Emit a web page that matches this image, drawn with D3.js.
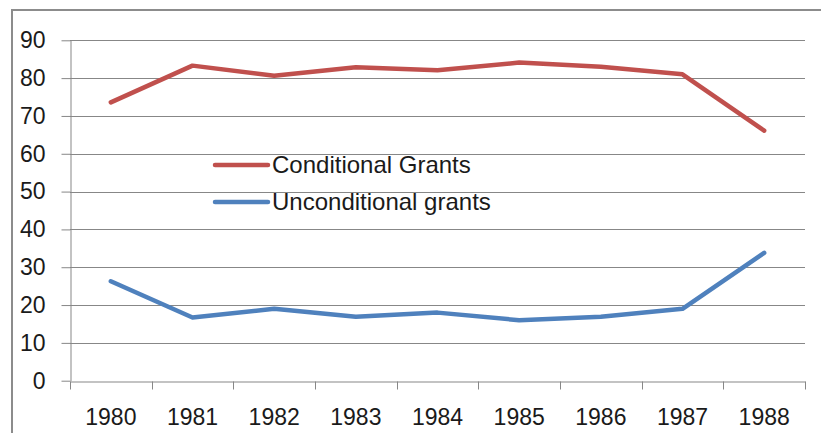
<!DOCTYPE html>
<html>
<head>
<meta charset="utf-8">
<script src="https://cdn.jsdelivr.net/npm/d3@7"></script>
<style>
  body { margin: 0; background: #fff; }
  svg { display: block; font-family: "Liberation Sans", Arial, sans-serif; }
</style>
</head>
<body>
<div id="vis-container"></div>
<script>
const width = 821,
    height = 433;

// data
const years = ["1980", "1981", "1982", "1983", "1984", "1985", "1986", "1987", "1988"];
const conditional = [73.6, 83.3, 80.6, 82.9, 82.1, 84.1, 83.0, 81.0, 66.1];
const unconditional = [26.3, 16.7, 19.0, 16.9, 18.0, 16.0, 16.9, 19.0, 33.8];
const yTicks = [0, 10, 20, 30, 40, 50, 60, 70, 80, 90];
const seriesNames = ["Conditional Grants", "Unconditional grants"];
const colors = ["#C0504D", "#4F81BD"];

const plotLeft = 70, plotRight = 805, plotTop = 40.3, plotBottom = 380.7;

var svg = d3.select("#vis-container").append("svg")
    .attr("width", width)
    .attr("height", height);

// outer frame (right and bottom edges fall outside the picture)
svg.append("rect")
    .attr("x", 12).attr("y", 10)
    .attr("width", 840).attr("height", 460)
    .attr("fill", "none")
    .attr("stroke", "#8c8c8c")
    .attr("stroke-width", 2);

var x = d3.scaleBand()
    .domain(years)
    .range([plotLeft, plotRight]);

var y = d3.scaleLinear()
    .domain([0, 90])
    .range([plotBottom, plotTop]);

// gridlines
svg.append("g")
    .selectAll("line")
    .data(yTicks.filter(d => d > 0))
    .enter().append("line")
    .attr("x1", plotLeft).attr("x2", plotRight)
    .attr("y1", d => Math.round(y(d)) + 0.5)
    .attr("y2", d => Math.round(y(d)) + 0.5)
    .attr("stroke", "#878787")
    .attr("stroke-width", 1);

// y axis
var yAxis = svg.append("g")
    .attr("transform", `translate(${plotLeft + 0.5},0)`)
    .call(d3.axisLeft(y).tickValues(yTicks).tickSize(9).tickPadding(16).tickSizeOuter(0));

// x axis
var xAxis = svg.append("g")
    .attr("transform", `translate(0,${Math.round(plotBottom) + 0.5})`)
    .call(d3.axisBottom(x).tickSize(0).tickPadding(27));

// band boundary ticks on x axis
xAxis.selectAll(".bticks")
    .data(d3.range(years.length + 1))
    .enter().append("line")
    .attr("x1", i => Math.round(plotLeft + i * x.step()) + 0.5)
    .attr("x2", i => Math.round(plotLeft + i * x.step()) + 0.5)
    .attr("y1", 0).attr("y2", 8)
    .attr("stroke", "#878787");

[yAxis, xAxis].forEach(function(a) {
    a.select(".domain").attr("stroke", "#878787");
    a.selectAll(".tick line").attr("stroke", "#878787");
    a.selectAll("text")
        .attr("font-size", 23)
        .attr("fill", "#1a1a1a")
        .attr("font-family", "Liberation Sans, Arial, sans-serif");
});

// lines
var line = d3.line()
    .x((d, i) => x(years[i]) + x.bandwidth() / 2)
    .y(d => y(d));

svg.selectAll(".series")
    .data([conditional, unconditional])
    .enter().append("path")
    .attr("class", "series")
    .attr("d", line)
    .attr("fill", "none")
    .attr("stroke", (d, i) => colors[i])
    .attr("stroke-width", 4.5)
    .attr("stroke-linejoin", "round")
    .attr("stroke-linecap", "round");

// legend
var legend = svg.append("g")
    .selectAll("g")
    .data(seriesNames)
    .enter().append("g")
    .attr("transform", (d, i) => `translate(215,${165 + i * 37})`);

legend.append("line")
    .attr("x1", 0).attr("x2", 53)
    .attr("stroke", (d, i) => colors[i])
    .attr("stroke-width", 4.5)
    .attr("stroke-linecap", "round");

legend.append("text")
    .attr("x", 57)
    .attr("dy", "0.35em")
    .attr("font-size", 24)
    .attr("fill", "#1a1a1a")
    .text(d => d);
</script>
</body>
</html>
